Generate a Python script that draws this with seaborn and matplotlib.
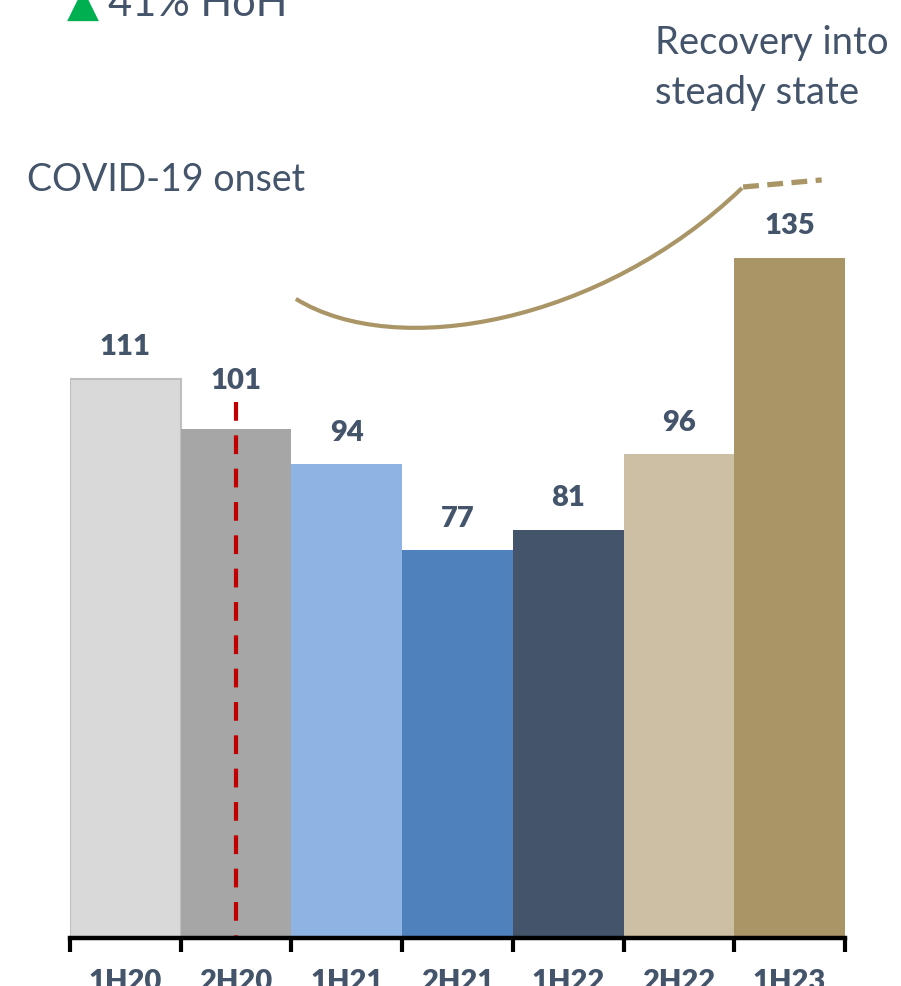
import numpy as np
import matplotlib
matplotlib.use('Agg')
import matplotlib.pyplot as plt
from matplotlib.path import Path
from matplotlib.patches import PathPatch
import seaborn as sns

# data
periods = ['1H20', '2H20', '1H21', '2H21', '1H22', '2H22', '1H23']
values = [111, 101, 94, 77, 81, 96, 135]
bar_colors = ['#D9D9D9', '#A6A6A6', '#8EB4E3', '#4F81BD', '#44546A', '#CDBFA3', '#AA9566']
headline = '41% HoH'

text_color = '#44546A'
gold = '#AA9566'

sns.set_theme(style='white')
plt.rcParams['font.family'] = ['Lato', 'DejaVu Sans']

fig = plt.figure(figsize=(9.01, 9.86), dpi=100)
ax = fig.add_axes([0.0777, 0.0487, 0.8601, 0.9513])

sns.barplot(x=periods, y=values, hue=periods, palette=bar_colors, width=1.0,
            dodge=False, legend=False, saturation=1, ax=ax)
for p in ax.patches:
    p.set_linewidth(0)
ax.patches[0].set_edgecolor('#BFBFBF')
ax.patches[0].set_linewidth(1.5)

ax.set_xlim(-0.5, len(periods) - 0.5)
ax.set_ylim(0, 186.1)

# value labels
for i, v in enumerate(values):
    off = 9.5 if periods[i] == '2H20' else 6.2
    ax.text(i, v + off, str(v), ha='center', va='center', fontsize=21,
            fontweight='heavy', color=text_color)

# COVID onset line
ax.plot([1, 1], [106.3, 0], color='#C00000', lw=3, ls=(0, (4.5, 3.5)),
        solid_capstyle='butt', dash_capstyle='butt')

# recovery curve
verts = [(1.54, 126.8), (2.45, 114.5), (4.3, 122), (5.57, 148.8)]
codes = [Path.MOVETO, Path.CURVE4, Path.CURVE4, Path.CURVE4]
ax.add_patch(PathPatch(Path(verts, codes), facecolor='none', edgecolor=gold, lw=3,
                       clip_on=False))
ax.plot([5.58, 6.29], [149.0, 150.4], color=gold, lw=3.8, ls=(0, (3, 1.6)),
        dash_capstyle='butt', clip_on=False)

# axes styling
for s in ['top', 'right', 'left']:
    ax.spines[s].set_visible(False)
ax.spines['bottom'].set_color('black')
ax.spines['bottom'].set_linewidth(3.2)
ax.set_yticks([])
ax.set_xticks(np.arange(len(periods) + 1) - 0.5)
ax.set_xticklabels([])
ax.tick_params(axis='x', which='major', direction='out', length=10, width=3,
               color='black', bottom=True)
ax.set_xticks(np.arange(len(periods)), minor=True)
ax.set_xticklabels(periods, minor=True, fontsize=21, fontweight='heavy', color=text_color)
ax.tick_params(axis='x', which='minor', length=0, pad=22)
ax.set_xlabel('')
ax.set_ylabel('')

# annotations
fig.text(27 / 901, 1 - 180 / 986, 'COVID-19 onset', fontsize=27, color=text_color,
         ha='left', va='center')
fig.text(655 / 901, 1 - 43 / 986, 'Recovery into', fontsize=27.5, color=text_color,
         ha='left', va='center')
fig.text(655 / 901, 1 - 93 / 986, 'steady state', fontsize=27.5, color=text_color,
         ha='left', va='center')
fig.text(67 / 901, 1 - 17 / 986, '\u25B2', fontsize=30, color='#00B050',
         ha='left', va='baseline', family=['DejaVu Sans'])
fig.text(108 / 901, 1 - 16 / 986, headline, fontsize=30, color=text_color,
         ha='left', va='baseline')

fig.savefig('out.png', dpi=100)
